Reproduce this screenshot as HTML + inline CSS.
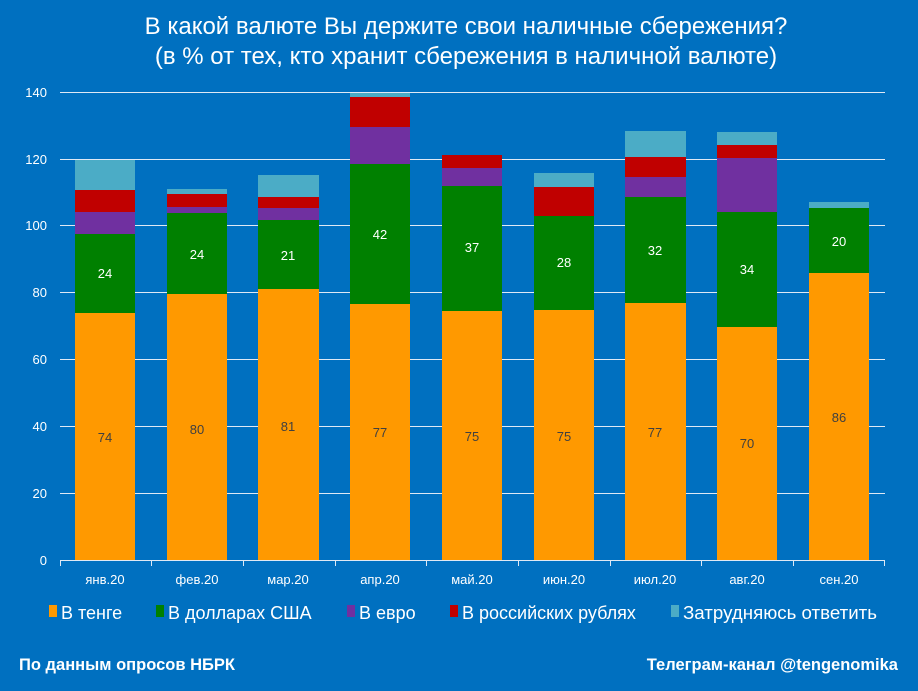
<!DOCTYPE html>
<html><head><meta charset="utf-8"><style>
body{margin:0;background:#0070C0;}
svg{display:block;font-family:"Liberation Sans",sans-serif;}
</style></head><body>
<svg width="918" height="691" viewBox="0 0 918 691" xmlns="http://www.w3.org/2000/svg">
<rect width="918" height="691" fill="#0070C0"/>
<text x="466" y="34" fill="#fff" font-size="24" text-anchor="middle">В какой валюте Вы держите свои наличные сбережения?</text>
<text x="466" y="64" fill="#fff" font-size="24" text-anchor="middle">(в % от тех, кто хранит сбережения в наличной валюте)</text>
<g stroke="#dfe9f5" stroke-width="1">
<line x1="60" x2="885" y1="92.5" y2="92.5"/>
<line x1="60" x2="885" y1="159.5" y2="159.5"/>
<line x1="60" x2="885" y1="225.5" y2="225.5"/>
<line x1="60" x2="885" y1="292.5" y2="292.5"/>
<line x1="60" x2="885" y1="359.5" y2="359.5"/>
<line x1="60" x2="885" y1="426.5" y2="426.5"/>
<line x1="60" x2="885" y1="493.5" y2="493.5"/>
</g>
<g fill="#fff" font-size="13" text-anchor="end">
<text x="47" y="97">140</text><text x="47" y="164">120</text><text x="47" y="230">100</text>
<text x="47" y="297">80</text><text x="47" y="364">60</text><text x="47" y="431">40</text>
<text x="47" y="498">20</text><text x="47" y="565">0</text>
</g>
<g id="bars">
<rect x="75" y="160" width="60" height="30" fill="#4BACC6"/>
<rect x="75" y="190" width="60" height="22" fill="#C00000"/>
<rect x="75" y="212" width="60" height="22" fill="#7030A0"/>
<rect x="75" y="234" width="60" height="79" fill="#008000"/>
<rect x="75" y="313" width="60" height="247" fill="#FF9900"/>
<rect x="167" y="189" width="60" height="5" fill="#4BACC6"/>
<rect x="167" y="194" width="60" height="13" fill="#C00000"/>
<rect x="167" y="207" width="60" height="6" fill="#7030A0"/>
<rect x="167" y="213" width="60" height="81" fill="#008000"/>
<rect x="167" y="294" width="60" height="266" fill="#FF9900"/>
<rect x="258" y="175" width="61" height="22" fill="#4BACC6"/>
<rect x="258" y="197" width="61" height="11" fill="#C00000"/>
<rect x="258" y="208" width="61" height="12" fill="#7030A0"/>
<rect x="258" y="220" width="61" height="69" fill="#008000"/>
<rect x="258" y="289" width="61" height="271" fill="#FF9900"/>
<rect x="350" y="93" width="60" height="4" fill="#4BACC6"/>
<rect x="350" y="97" width="60" height="30" fill="#C00000"/>
<rect x="350" y="127" width="60" height="37" fill="#7030A0"/>
<rect x="350" y="164" width="60" height="140" fill="#008000"/>
<rect x="350" y="304" width="60" height="256" fill="#FF9900"/>
<rect x="442" y="155" width="60" height="13" fill="#C00000"/>
<rect x="442" y="168" width="60" height="18" fill="#7030A0"/>
<rect x="442" y="186" width="60" height="125" fill="#008000"/>
<rect x="442" y="311" width="60" height="249" fill="#FF9900"/>
<rect x="534" y="173" width="60" height="14" fill="#4BACC6"/>
<rect x="534" y="187" width="60" height="29" fill="#C00000"/>
<rect x="534" y="216" width="60" height="94" fill="#008000"/>
<rect x="534" y="310" width="60" height="250" fill="#FF9900"/>
<rect x="625" y="131" width="61" height="26" fill="#4BACC6"/>
<rect x="625" y="157" width="61" height="20" fill="#C00000"/>
<rect x="625" y="177" width="61" height="20" fill="#7030A0"/>
<rect x="625" y="197" width="61" height="106" fill="#008000"/>
<rect x="625" y="303" width="61" height="257" fill="#FF9900"/>
<rect x="717" y="132" width="60" height="13" fill="#4BACC6"/>
<rect x="717" y="145" width="60" height="13" fill="#C00000"/>
<rect x="717" y="158" width="60" height="54" fill="#7030A0"/>
<rect x="717" y="212" width="60" height="115" fill="#008000"/>
<rect x="717" y="327" width="60" height="233" fill="#FF9900"/>
<rect x="809" y="202" width="60" height="6" fill="#4BACC6"/>
<rect x="809" y="208" width="60" height="65" fill="#008000"/>
<rect x="809" y="273" width="60" height="287" fill="#FF9900"/>
</g>
<g fill="#fff" font-size="13" text-anchor="middle">
<text x="105" y="278">24</text><text x="197" y="259">24</text><text x="288" y="260">21</text>
<text x="380" y="239">42</text><text x="472" y="252">37</text><text x="564" y="267">28</text>
<text x="655" y="255">32</text><text x="747" y="274">34</text><text x="839" y="246">20</text>
</g>
<g fill="#404040" font-size="13" text-anchor="middle">
<text x="105" y="442">74</text><text x="197" y="434">80</text><text x="288" y="431">81</text>
<text x="380" y="437">77</text><text x="472" y="441">75</text><text x="564" y="441">75</text>
<text x="655" y="437">77</text><text x="747" y="448">70</text><text x="839" y="422">86</text>
</g>
<g stroke="#dfe9f5" stroke-width="1">
<line x1="60" x2="885" y1="560.5" y2="560.5"/>
<line x1="60.5" x2="60.5" y1="560" y2="566"/><line x1="151.5" x2="151.5" y1="560" y2="566"/>
<line x1="243.5" x2="243.5" y1="560" y2="566"/><line x1="335.5" x2="335.5" y1="560" y2="566"/>
<line x1="426.5" x2="426.5" y1="560" y2="566"/><line x1="518.5" x2="518.5" y1="560" y2="566"/>
<line x1="610.5" x2="610.5" y1="560" y2="566"/><line x1="701.5" x2="701.5" y1="560" y2="566"/>
<line x1="793.5" x2="793.5" y1="560" y2="566"/><line x1="884.5" x2="884.5" y1="560" y2="566"/>
</g>
<g fill="#fff" font-size="13" text-anchor="middle">
<text x="105" y="584">янв.20</text><text x="197" y="584">фев.20</text><text x="288" y="584">мар.20</text>
<text x="380" y="584">апр.20</text><text x="472" y="584">май.20</text><text x="564" y="584">июн.20</text>
<text x="655" y="584">июл.20</text><text x="747" y="584">авг.20</text><text x="839" y="584">сен.20</text>
</g>
<g font-size="18" fill="#fff">
<rect x="49" y="605" width="8" height="12" fill="#FF9900"/><text x="61" y="619">В тенге</text>
<rect x="156" y="605" width="8" height="12" fill="#008000"/><text x="168" y="619">В долларах США</text>
<rect x="347" y="605" width="8" height="12" fill="#7030A0"/><text x="359" y="619">В евро</text>
<rect x="450" y="605" width="8" height="12" fill="#C00000"/><text x="462" y="619">В российских рублях</text>
<rect x="671" y="605" width="8" height="12" fill="#4BACC6"/><text x="683" y="619" textLength="194" lengthAdjust="spacingAndGlyphs">Затрудняюсь ответить</text>
</g>
<text x="19" y="670" fill="#fff" font-size="16.5" font-weight="bold" textLength="216" lengthAdjust="spacingAndGlyphs">По данным опросов НБРК</text>
<text x="898" y="670" fill="#fff" font-size="16.5" font-weight="bold" text-anchor="end">Телеграм-канал @tengenomika</text>
</svg>
</body></html>
